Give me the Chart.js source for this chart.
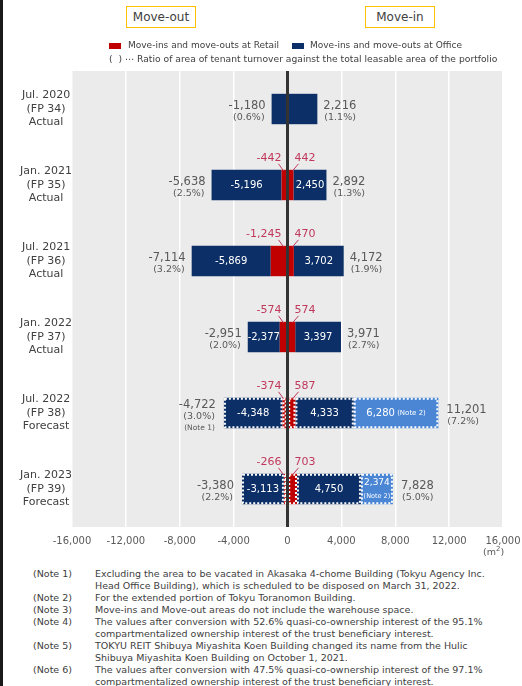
<!DOCTYPE html>
<html>
<head>
<meta charset="utf-8">
<script src="https://cdn.jsdelivr.net/npm/chart.js@4"></script>
<style>
  html,body{margin:0;padding:0;background:#fff;}
  body{width:522px;height:686px;position:relative;overflow:hidden;font-family:"DejaVu Sans",Verdana,sans-serif;color:#404040;}
  #leftbar{position:absolute;left:0;top:0;width:3px;height:686px;background:#1a1a1a;z-index:5;}
  #c{position:absolute;left:0;top:0;}
  .hdr{position:absolute;top:6px;height:20px;border:1.5px solid #ffc000;font-size:12px;line-height:20px;text-align:center;color:#404040;background:#fff;}
  .lg{position:absolute;font-size:9px;white-space:nowrap;color:#404040;}
  .sw{position:absolute;width:12px;height:6px;}
  #unit{position:absolute;left:483px;top:545px;font-size:9.5px;color:#595959;}
  #notes{position:absolute;left:33px;top:568px;font-size:9.5px;line-height:12px;color:#404040;}
  .n{display:flex;align-items:flex-start;}
  .n .k{width:62px;flex:none;white-space:nowrap;}
  .n .t{white-space:nowrap;}
</style>
</head>
<body>
<div id="leftbar"></div>
<canvas id="c" width="522" height="560"></canvas>
<div class="hdr" style="left:126px;width:68px;">Move-out</div>
<div class="hdr" style="left:365px;width:68px;">Move-in</div>
<div class="sw" style="left:109px;top:43px;background:#c00000;"></div>
<div class="lg" style="left:128px;top:40px;">Move-ins and move-outs at Retail</div>
<div class="sw" style="left:292px;top:43px;background:#0b2f66;"></div>
<div class="lg" style="left:310px;top:40px;">Move-ins and move-outs at Office</div>
<div class="lg" style="left:109px;top:53px;font-size:9.2px;">(&nbsp;&nbsp;) ⋯ Ratio of area of tenant turnover against the total leasable area of the portfolio</div>
<div id="unit">(m<sup style="font-size:7px">2</sup>)</div>
<div id="notes">
  <div class="n"><span class="k">(Note 1)</span><span class="t">Excluding the area to be vacated in Akasaka 4-chome Building (Tokyu Agency Inc.<br>Head Office Building), which is scheduled to be disposed on March 31, 2022.</span></div>
  <div class="n"><span class="k">(Note 2)</span><span class="t">For the extended portion of Tokyu Toranomon Building.</span></div>
  <div class="n"><span class="k">(Note 3)</span><span class="t">Move-ins and Move-out areas do not include the warehouse space.</span></div>
  <div class="n"><span class="k">(Note 4)</span><span class="t">The values after conversion with 52.6% quasi-co-ownership interest of the 95.1%<br>compartmentalized ownership interest of the trust beneficiary interest.</span></div>
  <div class="n"><span class="k">(Note 5)</span><span class="t">TOKYU REIT Shibuya Miyashita Koen Building changed its name from the Hulic<br>Shibuya Miyashita Koen Building on October 1, 2021.</span></div>
  <div class="n"><span class="k">(Note 6)</span><span class="t">The values after conversion with 47.5% quasi-co-ownership interest of the 97.1%<br>compartmentalized ownership interest of the trust beneficiary interest.</span></div>
</div>
<script>
const categories = [
  ["Jul. 2020","(FP 34)","Actual"],
  ["Jan. 2021","(FP 35)","Actual"],
  ["Jul. 2021","(FP 36)","Actual"],
  ["Jan. 2022","(FP 37)","Actual"],
  ["Jul. 2022","(FP 38)","Forecast"],
  ["Jan. 2023","(FP 39)","Forecast"]
];
const retailOut = [0, -442, -1245, -574, -374, -266];
const officeOut = [-1180, -5196, -5869, -2377, -4348, -3113];
const retailIn  = [0, 442, 470, 574, 587, 703];
const officeIn  = [2216, 2450, 3702, 3397, 4333, 4750];
const note2In   = [0, 0, 0, 0, 6280, 2374];
const totalOut  = [-1180, -5638, -7114, -2951, -4722, -3380];
const totalIn   = [2216, 2892, 4172, 3971, 11201, 7828];
const outRatio  = ["(0.6%)","(2.5%)","(3.2%)","(2.0%)","(3.0%)","(2.2%)"];
const inRatio   = ["(1.1%)","(1.3%)","(1.9%)","(2.7%)","(7.2%)","(5.0%)"];
const outNote   = ["","","","","(Note 1)",""];
const isForecast = [false,false,false,false,true,true];
const xTicks = [-16000,-12000,-8000,-4000,0,4000,8000,12000,16000];

const RED = "#c00000", NAVY = "#0b2f66", LIGHT = "#4a86d4";
const fmt = v => v.toLocaleString("en-US");
const FONT = '"DejaVu Sans", Verdana, sans-serif';

const custom = {
  id: "custom",
  beforeDraw(chart) {
    const {ctx, chartArea: a} = chart;
    ctx.save();
    ctx.fillStyle = "#ebebeb";
    ctx.fillRect(a.left, a.top, a.right - a.left, a.bottom - a.top);
    ctx.restore();
  },
  afterDatasetsDraw(chart) {
    const {ctx, chartArea: a} = chart;
    const xs = chart.scales.x;
    const x0 = xs.getPixelForValue(0);
    ctx.save();
    chart.data.datasets.forEach((ds, d) => {
      const meta = chart.getDatasetMeta(d);
      meta.data.forEach((el, i) => {
        if (!isForecast[i] || !ds.data[i]) return;
        const p = el.getProps(["x","y","base","height"], true);
        const l = Math.min(p.x, p.base), r = Math.max(p.x, p.base);
        ctx.strokeStyle = "#ffffff";
        ctx.lineWidth = 2;
        ctx.setLineDash([2, 2]);
        ctx.strokeRect(l + 1, p.y - p.height / 2 + 1, r - l - 2, p.height - 2);
      });
    });
    ctx.setLineDash([]);
    ctx.strokeStyle = "#333333";
    ctx.lineWidth = 3;
    ctx.beginPath();
    ctx.moveTo(x0, a.top);
    ctx.lineTo(x0, a.bottom);
    ctx.stroke();

    const mOffOut = chart.getDatasetMeta(1), mOffIn = chart.getDatasetMeta(3), mN2 = chart.getDatasetMeta(4);
    ctx.textBaseline = "middle";
    categories.forEach((c, i) => {
      const el = mOffIn.data[i];
      const p = el.getProps(["y","height"], true);
      const cy = p.y, top = p.y - p.height / 2;
      const xo = xs.getPixelForValue(totalOut[i]) - (isForecast[i] ? 8 : 6);
      const shiftO = outNote[i] ? -5 : 0;
      ctx.fillStyle = "#595959";
      ctx.textAlign = "right";
      ctx.font = "11.5px " + FONT;
      ctx.fillText(fmt(totalOut[i]), xo, cy - 3 + shiftO);
      ctx.font = "9.5px " + FONT;
      ctx.fillText(outRatio[i], xo - 1, cy + 9 + shiftO);
      if (outNote[i]) {
        ctx.font = "7.5px " + FONT;
        ctx.fillText(outNote[i], xo - 1, cy + 20 + shiftO);
      }
      const xi = xs.getPixelForValue(totalIn[i]) + (isForecast[i] ? 8 : 6);
      ctx.textAlign = "left";
      ctx.font = "11.5px " + FONT;
      ctx.fillText(fmt(totalIn[i]), xi, cy - 3);
      ctx.font = "9.5px " + FONT;
      ctx.fillText(inRatio[i], xi + 1, cy + 9);
      ctx.fillStyle = "#ffffff";
      ctx.textAlign = "center";
      ctx.font = "10px " + FONT;
      if (retailOut[i]) {
        const q = mOffOut.data[i].getProps(["x","base"], true);
        ctx.fillText(fmt(officeOut[i]), (q.x + q.base) / 2, cy);
      }
      if (retailIn[i]) {
        const q = mOffIn.data[i].getProps(["x","base"], true);
        ctx.fillText(fmt(officeIn[i]), (q.x + q.base) / 2, cy);
      }
      if (note2In[i]) {
        const q = mN2.data[i].getProps(["x","base"], true);
        const mid = (q.x + q.base) / 2;
        const w = Math.abs(q.x - q.base);
        if (w > 60) {
          ctx.font = "10px " + FONT;
          const a1 = fmt(note2In[i]);
          const w1 = ctx.measureText(a1).width;
          ctx.font = "7px " + FONT;
          const a2 = " (Note 2)";
          const w2 = ctx.measureText(a2).width;
          const sx = mid - (w1 + w2) / 2;
          ctx.textAlign = "left";
          ctx.font = "10px " + FONT;
          ctx.fillText(a1, sx, cy);
          ctx.font = "7px " + FONT;
          ctx.fillText(a2, sx + w1, cy);
        } else {
          ctx.textAlign = "center";
          ctx.font = "9px " + FONT;
          ctx.fillText(fmt(note2In[i]), mid, cy - 6);
          ctx.font = "6.5px " + FONT;
          ctx.fillText("(Note 2)", mid, cy + 7);
        }
      }
      if (retailOut[i] || retailIn[i]) {
        ctx.fillStyle = "#c0395c";
        ctx.strokeStyle = "#c0395c";
        ctx.lineWidth = 1;
        ctx.font = "11px " + FONT;
        ctx.textAlign = "right";
        ctx.fillText(fmt(retailOut[i]), x0 - 6, top - 12);
        ctx.textAlign = "left";
        ctx.fillText(fmt(retailIn[i]), x0 + 7, top - 12);
        ctx.beginPath();
        ctx.moveTo(x0 - 9, top - 6); ctx.lineTo(x0 - 4, top + 1);
        ctx.moveTo(x0 + 11, top - 6); ctx.lineTo(x0 + 5, top + 1);
        ctx.stroke();
      }
    });
    ctx.restore();
  }
};

new Chart(document.getElementById("c"), {
  type: "bar",
  data: {
    labels: categories,
    datasets: [
      {label: "Retail out", data: retailOut, backgroundColor: RED},
      {label: "Office out", data: officeOut, backgroundColor: NAVY},
      {label: "Retail in", data: retailIn, backgroundColor: RED},
      {label: "Office in", data: officeIn, backgroundColor: NAVY},
      {label: "Note 2 in", data: note2In, backgroundColor: LIGHT}
    ]
  },
  options: {
    indexAxis: "y",
    responsive: false,
    animation: false,
    devicePixelRatio: 1,
    layout: {padding: {top: 71, right: 19, left: 0, bottom: 0}},
    datasets: {bar: {categoryPercentage: 1, barPercentage: 0.4, borderWidth: 0}},
    plugins: {legend: {display: false}, tooltip: {enabled: false}},
    scales: {
      x: {
        stacked: true,
        min: -16000, max: 16000,
        afterBuildTicks: s => { s.ticks = xTicks.map(v => ({value: v})); },
        afterFit: s => { s.height = 33; s.paddingLeft = 0; s.paddingRight = 0; },
        grid: {color: "#ffffff", lineWidth: 1.5, drawTicks: false},
        border: {display: false},
        ticks: {padding: 8, color: "#595959", font: {family: FONT, size: 10}, callback: v => fmt(v), maxRotation: 0}
      },
      y: {
        stacked: true,
        afterFit: s => { s.width = 72; s.paddingTop = 0; s.paddingBottom = 0; },
        grid: {display: false, drawTicks: false},
        border: {display: false},
        ticks: {padding: 0, crossAlign: "center", color: "#404040", font: {family: FONT, size: 11, lineHeight: 1.22}}
      }
    }
  },
  plugins: [custom]
});
</script>
</body>
</html>
